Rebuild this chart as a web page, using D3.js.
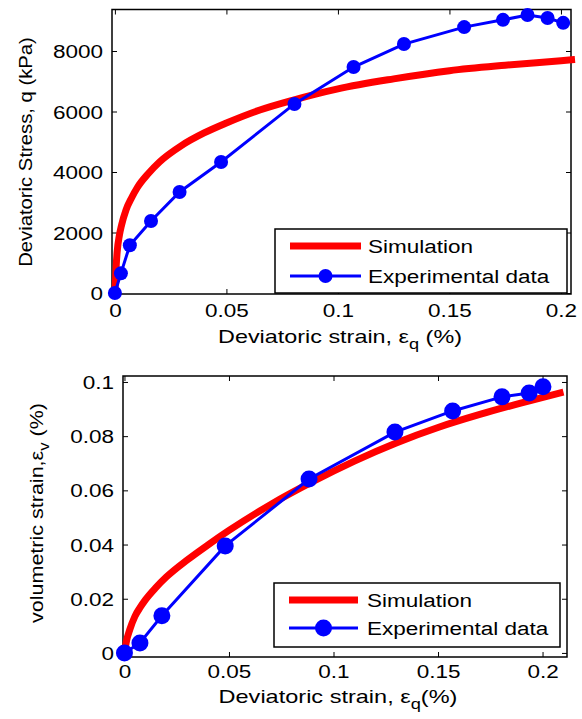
<!DOCTYPE html>
<html>
<head>
<meta charset="utf-8">
<script src="https://cdn.jsdelivr.net/npm/d3@7"></script>
<style>
  body { margin: 0; background: #fff; }
  svg text { font-family: "Liberation Sans", Arial, sans-serif; fill: #000; }
</style>
</head>
<body>
<script>
// two panels: q vs eps_q and eps_v vs eps_q
let w = 582;
let h = 719;

// panel A - deviatoric stress
let simStrainA = [0, 0.0005, 0.001, 0.002, 0.003, 0.005, 0.0075, 0.01, 0.015, 0.02, 0.03, 0.04, 0.05, 0.065, 0.08, 0.1, 0.125, 0.15, 0.175, 0.2, 0.2063];
let simStressA = [0, 800, 1350, 1900, 2250, 2750, 3150, 3480, 3950, 4330, 4880, 5290, 5620, 6050, 6380, 6750, 7080, 7350, 7530, 7680, 7720];
let expStrainA = [0, 0.0027, 0.0067, 0.0162, 0.029, 0.0476, 0.0805, 0.107, 0.1296, 0.1566, 0.174, 0.185, 0.194, 0.201];
let expStressA = [0, 650, 1580, 2380, 3340, 4330, 6250, 7470, 8230, 8790, 9030, 9190, 9090, 8930];
let xTicksA = [0, 0.05, 0.1, 0.15, 0.2];
let yTicksA = [0, 2000, 4000, 6000, 8000];

// panel B - volumetric strain
let simStrainB = [0, 0.001, 0.0025, 0.005, 0.0075, 0.01, 0.015, 0.02, 0.03, 0.04, 0.05, 0.07, 0.09, 0.11, 0.13, 0.15, 0.17, 0.19, 0.21];
let simVolB = [0, 0.0045, 0.0085, 0.0135, 0.0168, 0.0196, 0.0241, 0.028, 0.0343, 0.0399, 0.0452, 0.0548, 0.0632, 0.0708, 0.0775, 0.0832, 0.088, 0.0923, 0.0963];
let expStrainB = [0, 0.0074, 0.0179, 0.0482, 0.0883, 0.1294, 0.157, 0.1806, 0.1936, 0.2002];
let expVolB = [0, 0.0037, 0.0137, 0.0395, 0.0642, 0.0815, 0.0893, 0.0945, 0.0959, 0.0982];
let xTicksB = [0, 0.05, 0.1, 0.15, 0.2];
let yTicksB = [0, 0.02, 0.04, 0.06, 0.08, 0.1];

let legendNames = ["Simulation", "Experimental data"];

let svg = d3.select('body').append('svg')
    .attr('width', w)
    .attr('height', h);

let sx = 1.25; // the picture is stretched sideways

function fitText(sel, target, rotated) {
    let len = sel.node().getComputedTextLength();
    let k = target / len;
    let t = sel.attr('data-t');
    sel.attr('transform', t + (rotated ? ' rotate(-90)' : '') + ` scale(${k},1)`);
}

function drawPanel(p) {
    let x = d3.scaleLinear().domain(p.xDom).range([p.left, p.right]);
    let y = d3.scaleLinear().domain(p.yDom).range([p.bottom, p.top]);
    let g = svg.append('g');

    // ticks on all four sides, pointing in
    let bx = g.append('g').attr('transform', `translate(0,${p.bottom})`)
        .call(d3.axisBottom(x).tickValues(p.xTicks).tickSizeInner(-5).tickSizeOuter(0).tickFormat(d => String(d)));
    let lx = g.append('g').attr('transform', `translate(${p.left},0)`)
        .call(d3.axisLeft(y).tickValues(p.yTicks).tickSizeInner(-5).tickSizeOuter(0).tickFormat(d => String(d)));
    g.append('g').attr('transform', `translate(0,${p.top})`)
        .call(d3.axisTop(x).tickValues(p.xTicks).tickSizeInner(-5).tickSizeOuter(0).tickFormat(''));
    g.append('g').attr('transform', `translate(${p.right},0)`)
        .call(d3.axisRight(y).tickValues(p.yTicks).tickSizeInner(-5).tickSizeOuter(0).tickFormat(''));
    g.selectAll('.domain').remove();
    g.selectAll('.tick line').attr('stroke', '#000').attr('stroke-width', 1);

    bx.selectAll('text')
        .attr('y', null).attr('dy', null)
        .attr('font-size', 18)
        .attr('text-anchor', 'middle')
        .attr('transform', `translate(0,${p.xLabOff}) scale(${sx},1)`);
    lx.selectAll('text')
        .attr('x', null).attr('dy', null)
        .attr('font-size', 18)
        .attr('text-anchor', 'end')
        .attr('transform', `translate(-9,6.5) scale(${sx},1)`);

    g.append('rect')
        .attr('x', p.left).attr('y', p.top)
        .attr('width', p.right - p.left).attr('height', p.bottom - p.top)
        .attr('fill', 'none').attr('stroke', '#000').attr('stroke-width', 1.5);

    let line = d3.line().x(d => x(d[0])).y(d => y(d[1]));
    let sim = d3.zip(p.simX, p.simY);
    let exp = d3.zip(p.expX, p.expY);

    g.append('path')
        .attr('d', line.curve(d3.curveMonotoneX)(sim))
        .attr('fill', 'none').attr('stroke', 'red').attr('stroke-width', 7);
    g.append('path')
        .attr('d', line.curve(d3.curveLinear)(exp))
        .attr('fill', 'none').attr('stroke', 'blue').attr('stroke-width', 3);
    g.selectAll('circle.exp')
        .data(exp)
        .enter()
        .append('circle')
        .attr('class', 'exp')
        .attr('cx', d => x(d[0]))
        .attr('cy', d => y(d[1]))
        .attr('r', p.r)
        .attr('fill', 'blue');

    // legend
    let L = p.legend;
    g.append('rect')
        .attr('x', L.x).attr('y', L.y).attr('width', L.w).attr('height', L.h)
        .attr('fill', '#fff').attr('stroke', '#000').attr('stroke-width', 1.5);
    g.append('line')
        .attr('x1', L.lx1).attr('x2', L.lx2).attr('y1', L.y1).attr('y2', L.y1)
        .attr('stroke', 'red').attr('stroke-width', 7);
    g.append('line')
        .attr('x1', L.lx1).attr('x2', L.lx2).attr('y1', L.y2).attr('y2', L.y2)
        .attr('stroke', 'blue').attr('stroke-width', 3);
    g.append('circle')
        .attr('cx', (L.lx1 + L.lx2) / 2).attr('cy', L.y2).attr('r', p.r)
        .attr('fill', 'blue');
    legendNames.forEach((name, i) => {
        g.append('text')
            .attr('font-size', 18)
            .attr('transform', `translate(${L.tx},${(i ? L.y2 : L.y1) + 6.5}) scale(${sx},1)`)
            .text(name);
    });

    // axis titles
    let xt = g.append('text')
        .attr('font-size', 18)
        .attr('text-anchor', 'middle')
        .attr('data-t', `translate(${p.xTitle[0]},${p.xTitle[1]})`);
    xt.append('tspan').text(p.xTitleText);
    xt.append('tspan').text('ε');
    xt.append('tspan').attr('font-size', 14).attr('dy', 6).text('q');
    xt.append('tspan').attr('dy', -6).text(p.xTitleTail);
    fitText(xt, p.xTitle[2], false);

    let yt = g.append('text')
        .attr('font-size', 18)
        .attr('text-anchor', 'middle')
        .attr('data-t', `translate(${p.yTitle[0]},${p.yTitle[1]})`);
    yt.append('tspan').text(p.yTitleText);
    if (p.ySub) {
        yt.append('tspan').text('ε');
        yt.append('tspan').attr('font-size', 14).attr('dy', 6).text(p.ySub);
        yt.append('tspan').attr('dy', -6).text(' (%)');
    }
    fitText(yt, p.yTitle[2], true);
}

drawPanel({
    left: 112, right: 571, top: 9.5, bottom: 294,
    xDom: [-0.0013, 0.2045], yDom: [-33, 9372],
    xTicks: xTicksA, yTicks: yTicksA, xLabOff: 23,
    simX: simStrainA, simY: simStressA, expX: expStrainA, expY: expStressA,
    r: 7,
    legend: { x: 275, y: 229, w: 292, h: 64, lx1: 290, lx2: 361, y1: 246, y2: 276, tx: 368 },
    xTitle: [340, 343, 244], xTitleText: 'Deviatoric strain, ', xTitleTail: ' (%)',
    yTitle: [32, 152, 230], yTitleText: 'Deviatoric Stress, q (kPa)', ySub: null
});

drawPanel({
    left: 123, right: 567, top: 376, bottom: 657,
    xDom: [-0.0007, 0.2117], yDom: [-0.0015, 0.1022],
    xTicks: xTicksB, yTicks: yTicksB, xLabOff: 21,
    simX: simStrainB, simY: simVolB, expX: expStrainB, expY: expVolB,
    r: 8.5,
    legend: { x: 274, y: 583, w: 286, h: 64, lx1: 289, lx2: 358, y1: 600, y2: 628, tx: 367 },
    xTitle: [338, 703, 239], xTitleText: 'Deviatoric strain,  ', xTitleTail: '(%)',
    yTitle: [43, 513, 220], yTitleText: 'volumetric strain,', ySub: 'v'
});
</script>
</body>
</html>
